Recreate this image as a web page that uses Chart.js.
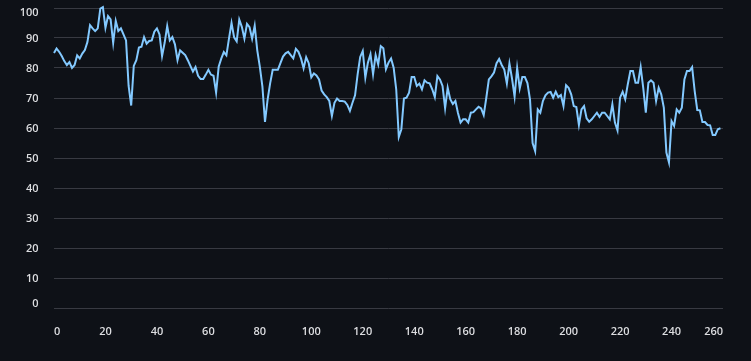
<!DOCTYPE html>
<html>
<head>
<meta charset="utf-8">
<script src="https://cdn.jsdelivr.net/npm/chart.js@4.4.1/dist/chart.umd.min.js"></script>
<style>
  html, body { margin: 0; padding: 0; background: #0e1117; overflow: hidden; }
  #wrap { width: 751px; height: 361px; position: relative; }
</style>
</head>
<body>
<div id="wrap"><canvas id="linechart" width="751" height="361"></canvas></div>
<script>
// values, one per index 0..259
const values = [
  85, 86.5, 85.4, 84, 82.3, 81, 82, 80, 81, 84.2,
  83.2, 84.8, 86, 88.7, 94.3, 93.2, 92.3, 93.2, 99.8, 100.3,
  93.4, 97.3, 96.2, 88.4, 95.7, 92.3, 93.2, 91.2, 89.2, 74,
  67.5, 80.7, 82.6, 86.8, 87.1, 90.3, 88.1, 89, 89.2, 92.1,
  93.2, 91.2, 84, 88.4, 94, 89.2, 90.3, 87.9, 82.6, 85.9,
  85.1, 84.3, 82.6, 80.7, 78.8, 80.3, 77.4, 76.3, 76.3, 77.8,
  79.4, 77.8, 77.4, 71.8, 80.4, 83.1, 85.3, 84.2, 89.8, 95,
  90.2, 88.9, 96.1, 93.7, 89.8, 94.7, 93.6, 89.8, 94.1, 85.9,
  80.4, 73.8, 62, 69.4, 74.9, 79.4, 79.4, 79.4, 81.6, 83.8,
  84.9, 85.4, 84.3, 83.2, 86.4, 85.4, 83.2, 79.9, 83.6, 81.6,
  76.9, 78.2, 77.5, 76.2, 72.5, 71.2, 70.3, 69, 64, 68.4,
  69.8, 69, 69, 68.8, 67.7, 65.7, 68.4, 70.9, 77.9, 83.7,
  85.7, 76.8, 81.8, 84.6, 77.9, 84.3, 81.2, 87.3, 86.6, 79.6,
  81.8, 83.2, 80.1, 72.9, 57, 59.6, 69.8, 70.1, 71.8, 77,
  77, 74, 74.8, 72.9, 75.9, 75.1, 74.9, 72.9, 70.3, 77.3,
  76.2, 74, 66.6, 73.4, 69.6, 68, 69, 65, 61.8, 62.9,
  62.9, 61.8, 65.1, 65.3, 66.2, 67.1, 66.5, 64.3, 70, 76.2,
  77.2, 78.5, 81.6, 83, 81, 79.5, 74.8, 81.5, 76.5, 70.5,
  80, 73.2, 77, 77, 75, 69.5, 55, 52.3, 66.2, 65.1,
  69, 70.9, 71.8, 72, 70.1, 72.1, 70.3, 71, 67.3, 74.3,
  73.4, 71.2, 67.3, 67, 61, 66.2, 67.3, 63.2, 62.1, 62.9,
  64, 65.1, 63.7, 65.1, 65.1, 64, 62.9, 67.9, 61.8, 59.2,
  70.1, 72.1, 69.6, 74.6, 79, 79, 75.1, 75.1, 80.3, 73.4,
  65.1, 75.1, 75.9, 75.1, 69, 73.4, 71.2, 66.8, 51.8, 48.5,
  62.3, 60.7, 66.2, 65.1, 66.8, 76.2, 79, 79, 80.3, 72.3,
  66, 65.9, 62, 62, 61, 60.9, 57.7, 57.7, 59.6, 59.9
];
const xIndex = values.map((v, i) => i);

const yTicks = [0, 10, 20, 30, 40, 50, 60, 70, 80, 90, 100];
const xTicks = [0, 20, 40, 60, 80, 100, 120, 140, 160, 180, 200, 220, 240, 260];

const bgColor = '#0e1117';
const lineColor = '#83c9ff';
const gridColor = '#383a42';
const labelColor = '#dcdde0';
const labelFont = '600 11px "Open Sans", "Noto Sans", sans-serif';

// y labels are drawn by hand so the first and last sit inside the plot (vega style flush)
const yLabelPlugin = {
  id: 'yLabels',
  afterDraw(chart) {
    const ctx = chart.ctx;
    const y = chart.scales.y;
    ctx.save();
    ctx.font = labelFont;
    ctx.fillStyle = labelColor;
    ctx.textAlign = 'right';
    ctx.textBaseline = 'alphabetic';
    yTicks.forEach(function (t, i) {
      const py = y.getPixelForValue(t);
      let base = py + 4;
      if (i === 0) base = py - 1;
      if (i === yTicks.length - 1) base = py + 8;
      ctx.fillText(String(t), 38.5, base);
    });
    ctx.restore();
  }
};

const bgPlugin = {
  id: 'bg',
  beforeDraw(chart) {
    const ctx = chart.ctx;
    ctx.save();
    ctx.fillStyle = bgColor;
    ctx.fillRect(0, 0, chart.width, chart.height);
    ctx.restore();
  }
};

new Chart(document.getElementById('linechart'), {
  type: 'line',
  data: {
    datasets: [{
      label: 'value',
      data: xIndex.map(i => ({ x: i, y: values[i] })),
      borderColor: lineColor,
      borderWidth: 2,
      pointRadius: 0,
      tension: 0,
      fill: false,
      clip: false
    }]
  },
  options: {
    responsive: false,
    animation: false,
    devicePixelRatio: 1,
    layout: { padding: { top: 8, right: 28, bottom: 0, left: 0 } },
    plugins: {
      legend: { display: false },
      tooltip: { enabled: false }
    },
    scales: {
      x: {
        type: 'linear',
        min: 0,
        max: 260,
        afterFit(scale) { scale.height = 53; },
        afterBuildTicks(scale) { scale.ticks = xTicks.map(v => ({ value: v })); },
        grid: { display: false, drawTicks: false },
        border: { display: false },
        ticks: {
          align: 'inner',
          padding: 17,
          maxRotation: 0,
          autoSkip: false,
          color: labelColor,
          font: { family: '"Open Sans", "Noto Sans", sans-serif', size: 11, weight: '600' }
        }
      },
      y: {
        min: 0,
        max: 100,
        afterFit(scale) { scale.width = 54; },
        afterBuildTicks(scale) { scale.ticks = yTicks.map(v => ({ value: v })); },
        grid: { color: gridColor, lineWidth: 1, drawTicks: false },
        border: { display: false },
        ticks: { display: false }
      }
    }
  },
  plugins: [bgPlugin, yLabelPlugin]
});
</script>
</body>
</html>
